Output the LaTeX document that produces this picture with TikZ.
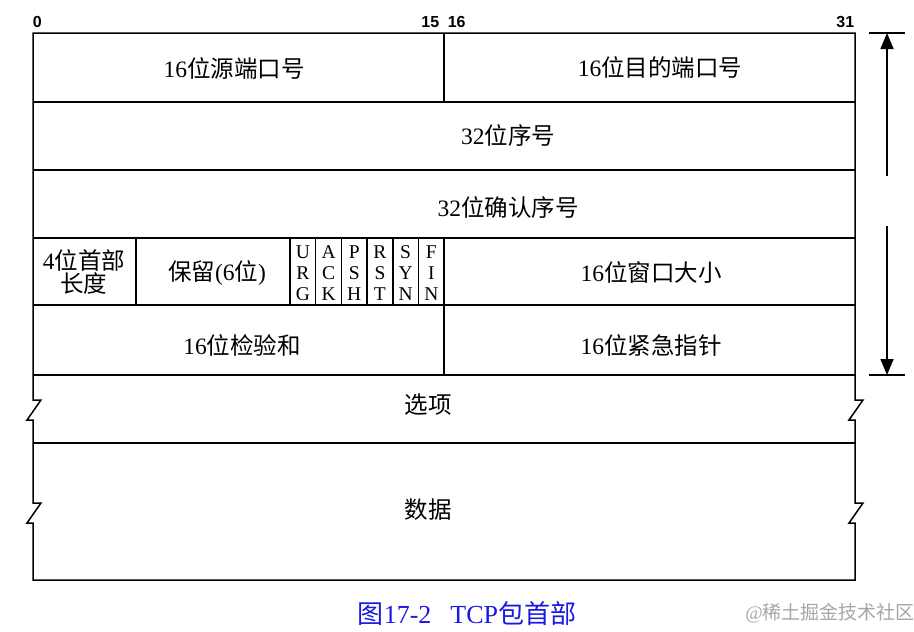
\documentclass[tikz,border=0pt]{standalone}
\usepackage{fontspec}
\setmainfont{Liberation Serif}
\setsansfont{Liberation Sans}
\newfontfamily\zhfont{Noto Sans CJK SC}
\newcommand{\zhtext}[1]{{\zhfont #1}}
\usetikzlibrary{arrows.meta}
\definecolor{captionblue}{RGB}{25,25,225}
\definecolor{markgray}{RGB}{165,165,165}
\tikzset{
  field/.style={font=\fontsize{23.5}{23.5}\selectfont, inner sep=0pt},
  flag/.style={font=\fontsize{19.5}{21}\selectfont, align=center, inner sep=0pt},
  bitno/.style={font=\sffamily\bfseries\fontsize{16}{16}\selectfont, inner sep=0pt},
}
\begin{document}
\begin{tikzpicture}[x=1pt, y=-1pt, line width=1.5pt]
          \useasboundingbox (0,0) rectangle (914,632);
          % outline, with the breaks at options and data
          \draw (33,33)
            -- (855,33)
            -- (855,400) -- (863,400) -- (849,420) -- (855,420)
            -- (855,503) -- (863,503) -- (849,523) -- (855,523)
            -- (855,580)
            -- (33,580)
            -- (33,523) -- (27,523) -- (41,503) -- (33,503)
            -- (33,420) -- (27,420) -- (41,400) -- (33,400)
            -- cycle;
          \foreach \y in {102,170,238,305,375,443}
            \draw (33,\y) -- (855,\y);
          \draw (444,33) -- (444,102);
          \draw (136,238) -- (136,305);
          \draw (290,238) -- (290,305);
          \draw (444,238) -- (444,375);
          \foreach \i in {1,...,5}
            \draw ({290+25.7*\i},238) -- ({290+25.7*\i},305);
          % bit numbers
          \node[bitno, anchor=south west] (bit0) at (32,28) {0};
          \node[bitno, anchor=south east] (bit15) at (440,28) {15};
          \node[bitno, anchor=south west] (bit16) at (447,28) {16};
          \node[bitno, anchor=south east] (bit31) at (855,28) {31};
          % fields
          \node[field] (srcport) at (234,69) {16\zhtext{位源端口号}};
          \node[field] (dstport) at (660,68) {16\zhtext{位目的端口号}};
          \node[field] (seqno) at (508,136) {32\zhtext{位序号}};
          \node[field] (ackno) at (508,208) {32\zhtext{位确认序号}};
          \node[field, align=center] (hdrlen) at (84,272) {4\zhtext{位首部}\\\zhtext{长度}};
          \node[field] (reserved) at (217,273) {\zhtext{保留}(6\zhtext{位})};
          \foreach \a/\b/\c [count=\i from 0] in {U/R/G,A/C/K,P/S/H,R/S/T,S/Y/N,F/I/N}
            \node[flag] (flag\i) at ({290+25.7*(\i+0.5)},273) {\a\\\b\\\c};
          \node[field] (window) at (651,273) {16\zhtext{位窗口大小}};
          \node[field] (checksum) at (242,345) {16\zhtext{位检验和}};
          \node[field] (urgent) at (651,345) {16\zhtext{位紧急指针}};
          \node[field] (options) at (428,405) {\zhtext{选项}};
          \node[field] (data) at (428,510) {\zhtext{数据}};
          % header length arrow
          \coordinate (toptick) at (887,33);
          \coordinate (bottick) at (887,375);
          \draw (869,33) -- (905,33);
          \draw (869,375) -- (905,375);
          \draw[-{Triangle[length=16pt, width=13pt]}] (887,176) -- (toptick);
          \draw[-{Triangle[length=16pt, width=13pt]}] (887,226) -- (bottick);
          % caption
          \node[font=\fontsize{26}{26}\selectfont, text=captionblue] (caption) at (467,614)
            {\zhtext{图}17-2\hspace{19pt}TCP\zhtext{包首部}};
          \node[font=\fontsize{19}{19}\selectfont, text=markgray] (mark) at (830,613)
            {@\zhtext{稀土掘金技术社区}};
        \end{tikzpicture}
\end{document}
